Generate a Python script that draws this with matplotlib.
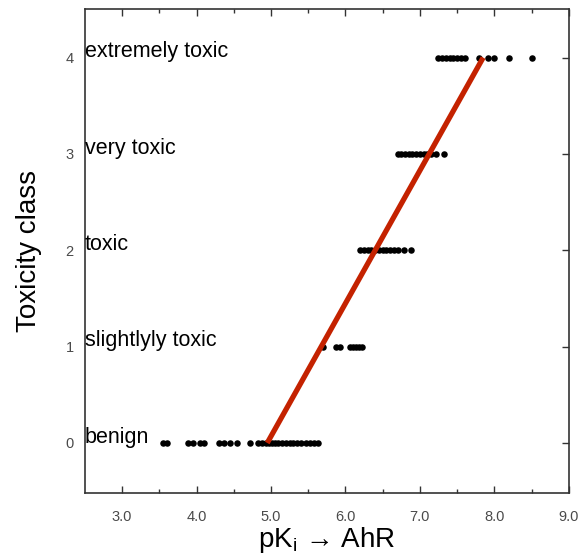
import numpy as np
import matplotlib

matplotlib.use("Agg")
import matplotlib.pyplot as plt

plt.rcParams["font.family"] = ["Liberation Sans", "DejaVu Sans"]

# pKi values per toxicity class
PKI_0 = [3.55, 3.6, 3.88, 3.95, 4.05, 4.1, 4.3, 4.37, 4.45, 4.55, 4.72, 4.82, 4.88,
         4.93, 4.97, 5.02, 5.06, 5.1, 5.15, 5.2, 5.25, 5.3, 5.35, 5.4, 5.47, 5.53, 5.58, 5.63]
PKI_1 = [5.7, 5.88, 5.93, 6.06, 6.1, 6.14, 6.18, 6.22]
PKI_2 = [6.2, 6.25, 6.3, 6.35, 6.4, 6.45, 6.5, 6.55, 6.6, 6.65, 6.7, 6.78, 6.88]
PKI_3 = [6.7, 6.75, 6.8, 6.85, 6.9, 6.95, 7.0, 7.05, 7.1, 7.15, 7.22, 7.33]
PKI_4 = [7.25, 7.3, 7.35, 7.4, 7.45, 7.5, 7.55, 7.6, 7.8, 7.92, 8.0, 8.2, 8.5]
CLASSES = [0, 1, 2, 3, 4]
CLASS_NAMES = ["benign", "slightlyly toxic", "toxic", "very toxic", "extremely toxic"]
FIT_X = [4.95, 7.85]
FIT_Y = [0, 4]
XTICKS = [3.0, 4.0, 5.0, 6.0, 7.0, 8.0, 9.0]

fig = plt.figure(figsize=(5.81, 5.54), dpi=100)
ax = fig.add_axes([0.146, 0.110, 0.833, 0.873])

for c, xs in zip(CLASSES, [PKI_0, PKI_1, PKI_2, PKI_3, PKI_4]):
    ax.scatter(xs, [c] * len(xs), s=22, color="black", zorder=3, linewidths=0)

ax.plot(FIT_X, FIT_Y, color="#c42200", lw=3.8, solid_capstyle="butt", zorder=4)

for c, name in zip(CLASSES, CLASS_NAMES):
    ax.text(2.5, c + 0.06, name, fontsize=15.5, ha="left", va="center", zorder=5)

ax.set_xlim(2.5, 9.0)
ax.set_ylim(-0.52, 4.5)
ax.set_xticks(XTICKS)
ax.set_xticklabels([f"{v:.1f}" for v in XTICKS])
ax.set_xticks(np.arange(3.5, 9.0, 1.0), minor=True)
ax.set_yticks(CLASSES)
ax.tick_params(which="both", direction="in", top=True, right=True,
               labelsize=10.5, labelcolor="#4a4a4a", color="#333333", width=1)
ax.tick_params(which="major", length=5)
ax.tick_params(which="minor", length=3)
ax.tick_params(axis="x", pad=12)
ax.tick_params(axis="y", left=False, pad=8)
for sp in ax.spines.values():
    sp.set_color("#333333")
    sp.set_linewidth(1.2)

ax.set_xlabel(r"pK$_\mathregular{i}$ → AhR", fontsize=20, labelpad=1)
ax.set_ylabel("Toxicity class", fontsize=20, labelpad=17)

fig.savefig("out.png", dpi=100)
